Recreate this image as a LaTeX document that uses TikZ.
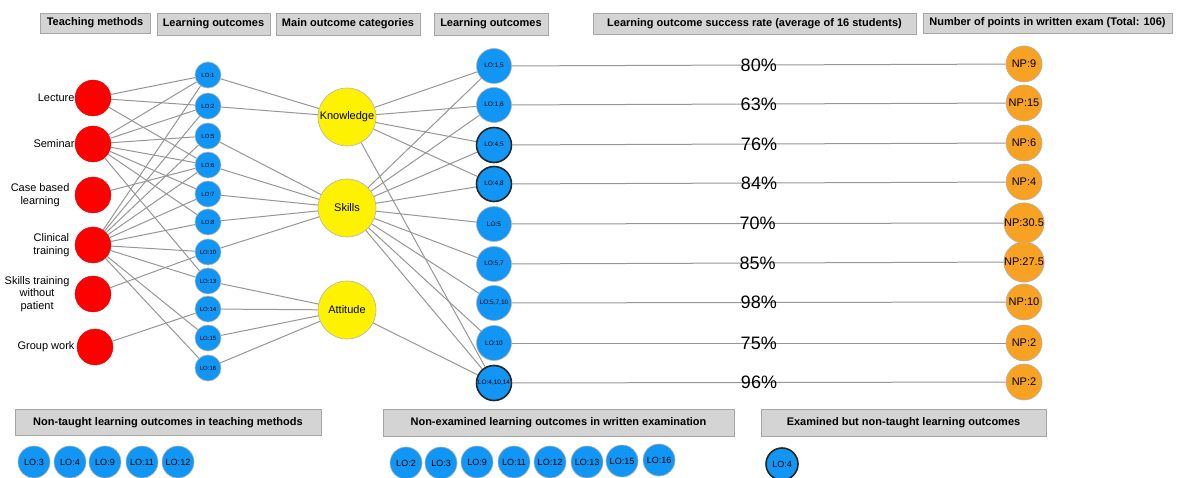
\documentclass[tikz,border=0pt]{standalone}
\usepackage{fontspec}
\setmainfont{Liberation Sans}
\definecolor{lob}{RGB}{18,150,245}
\definecolor{npo}{RGB}{247,162,35}
\definecolor{hdrfill}{RGB}{212,212,212}
\definecolor{hdrline}{RGB}{165,165,165}
\definecolor{edgegray}{RGB}{150,150,150}
\begin{document}
\begin{tikzpicture}[x=1pt,y=-1pt,
  hdr/.style={fill=hdrfill,draw=hdrline,line width=0.8pt,inner sep=0pt,
    font=\fontsize{11}{13}\selectfont\bfseries},
  tm/.style={circle,fill=red,draw=red!85!black,line width=0.3pt,minimum size=36pt,inner sep=0pt},
  tmlab/.style={anchor=east,align=center,font=\fontsize{11}{12.5}\selectfont},
  lo/.style={circle,fill=lob,draw=gray!60,line width=0.6pt,minimum size=26pt,inner sep=0pt,
    font=\fontsize{6}{7}\selectfont},
  cat/.style={circle,fill=yellow,draw=gray!60,line width=0.6pt,minimum size=58pt,inner sep=0pt,
    font=\fontsize{11}{12}\selectfont},
  rlo/.style={circle,fill=lob,draw=gray!60,line width=0.6pt,minimum size=35pt,inner sep=0pt,
    font=\fontsize{6.5}{7}\selectfont},
  thick lo/.style={draw=black!85,line width=1.6pt},
  np/.style={circle,fill=npo,draw=gray!60,line width=0.6pt,minimum size=36pt,inner sep=0pt,
    font=\fontsize{11}{12}\selectfont},
  pct/.style={font=\fontsize{18}{20}\selectfont,inner sep=0pt},
  blo/.style={circle,fill=lob,draw=gray!60,line width=0.6pt,minimum size=32pt,inner sep=0pt,
    font=\fontsize{9}{10}\selectfont},
  ed/.style={draw=edgegray,line width=1pt}
]
\useasboundingbox (0,0) rectangle (1180,478);

% headers
\node[hdr,minimum width=110pt,minimum height=20pt] (h1) at (95,23) {Teaching methods};
\node[hdr,minimum width=113pt,minimum height=22pt] (h2) at (213.5,24) {Learning outcomes};
\node[hdr,minimum width=144pt,minimum height=22pt] (h3) at (348,24) {Main outcome categories};
\node[hdr,minimum width=114pt,minimum height=22pt] (h4) at (491,24) {Learning outcomes};
\node[hdr,minimum width=323pt,minimum height=21pt] (h5) at (754.5,23.5) {Learning outcome success rate (average of 16 students)};
\node[hdr,minimum width=249pt,minimum height=20pt] (h6) at (1047.5,23) {Number of points in written exam (Total: 106)};

% teaching methods
\node[tm] (lec) at (93,98) {};
\node[tm] (sem) at (93,144) {};
\node[tm] (cbl) at (93,195) {};
\node[tm] (cli) at (93,245) {};
\node[tm] (skt) at (93,294) {};
\node[tm] (grw) at (95,347) {};
\node[tmlab] (llec) at (78,98) {Lecture};
\node[tmlab] (lsem) at (78,144) {Seminar};
\node[tmlab] (lcbl) at (73,195) {Case based\\learning};
\node[tmlab] (lcli) at (73,245) {Clinical\\training};
\node[tmlab] (lskt) at (73,294) {Skills training\\without\\patient};
\node[tmlab] (lgrw) at (78,347) {Group work};

% learning outcomes (left)
\node[lo] (a1) at (208,75) {LO:1};
\node[lo] (a2) at (208,106) {LO:2};
\node[lo] (a5) at (208,136) {LO:5};
\node[lo] (a6) at (208,165) {LO:6};
\node[lo] (a7) at (208,194) {LO:7};
\node[lo] (a8) at (208,222) {LO:8};
\node[lo] (a10) at (208,252) {LO:10};
\node[lo] (a13) at (208,281) {LO:13};
\node[lo] (a14) at (208,309) {LO:14};
\node[lo] (a15) at (208,338) {LO:15};
\node[lo] (a16) at (208,368) {LO:16};

% categories
\node[cat] (kn) at (347,117) {Knowledge};
\node[cat] (sk) at (347,208) {Skills};
\node[cat] (at) at (347,310) {Attitude};

% learning outcomes (right)
\node[rlo] (r1) at (494,66) {LO:1,5};
\node[rlo] (r2) at (494,105) {LO:1,6};
\node[rlo,thick lo] (r3) at (494,145) {LO:4,5};
\node[rlo,thick lo] (r4) at (494,184) {LO:4,8};
\node[rlo] (r5) at (494,224) {LO:5};
\node[rlo] (r6) at (494,264) {LO:5,7};
\node[rlo] (r7) at (494,303) {LO:5,7,10};
\node[rlo] (r8) at (494,343) {LO:10};
\node[rlo,thick lo] (r9) at (494,383) {LO:4,10,14};

% points
\node[np] (n1) at (1024,64) {NP:9};
\node[np] (n2) at (1024,103) {NP:15};
\node[np] (n3) at (1024,143) {NP:6};
\node[np] (n4) at (1024,182) {NP:4};
\node[np] (n5) at (1024,223) {NP:30.5};
\node[np] (n6) at (1024,262) {NP:27.5};
\node[np] (n7) at (1024,302) {NP:10};
\node[np] (n8) at (1024,343) {NP:2};
\node[np] (n9) at (1024,382) {NP:2};

% edges: teaching methods -> LO
\foreach \s/\t in {lec/a1,lec/a2,lec/a6,
  sem/a1,sem/a2,sem/a5,sem/a6,sem/a7,sem/a8,sem/a13,
  cbl/a6,
  cli/a1,cli/a2,cli/a5,cli/a6,cli/a7,cli/a8,cli/a10,cli/a13,cli/a15,cli/a16,
  skt/a10,grw/a14}
  \draw[ed] (\s) -- (\t);

% edges: LO -> categories
\foreach \s/\t in {a1/kn,a2/kn,a5/sk,a6/sk,a7/sk,a8/sk,a10/sk,
  a13/at,a14/at,a15/at,a16/at}
  \draw[ed] (\s) -- (\t);

% edges: categories -> right LO
\foreach \s/\t in {kn/r1,kn/r2,kn/r3,kn/r4,kn/r9,
  sk/r1,sk/r2,sk/r3,sk/r4,sk/r5,sk/r6,sk/r7,sk/r8,sk/r9,at/r9}
  \draw[ed] (\s) -- (\t);

% right LO -> points with success rates
\foreach \i/\p in {1/80,2/63,3/76,4/84,5/70,6/85,7/98,8/75,9/96}
  \draw[ed] (r\i) -- node[pct,pos=0.5] {\p\%} (n\i);

% bottom
\node[hdr,minimum width=306pt,minimum height=26pt] (b1) at (168,422.5) {Non-taught learning outcomes in teaching methods};
\node[hdr,minimum width=351pt,minimum height=27pt] (b2) at (558.5,422.5) {Non-examined learning outcomes in written examination};
\node[hdr,minimum width=285pt,minimum height=27pt] (b3) at (903.5,422.5) {Examined but non-taught learning outcomes};

\node[blo] (c1) at (34,462) {LO:3};
\node[blo] (c2) at (70,462) {LO:4};
\node[blo] (c3) at (105,462) {LO:9};
\node[blo] (c4) at (142,462) {LO:11};
\node[blo] (c5) at (178,462) {LO:12};

\node[blo] (d1) at (406,463) {LO:2};
\node[blo] (d2) at (441,463) {LO:3};
\node[blo] (d3) at (477,462) {LO:9};
\node[blo] (d4) at (514,462) {LO:11};
\node[blo] (d5) at (550,462) {LO:12};
\node[blo] (d6) at (587,462) {LO:13};
\node[blo] (d7) at (622,461) {LO:15};
\node[blo] (d8) at (659,460) {LO:16};

\node[blo,thick lo] (e1) at (782,464) {LO:4};
\end{tikzpicture}
\end{document}
